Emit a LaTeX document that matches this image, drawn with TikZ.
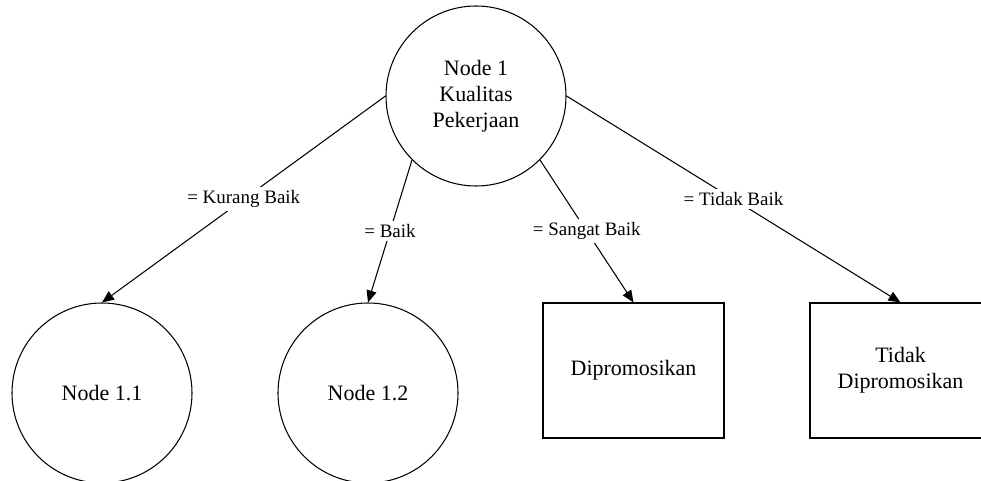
\documentclass[tikz,border=0pt]{standalone}
\usepackage{fontspec}
\setmainfont{Liberation Serif}
\usetikzlibrary{arrows.meta,positioning}

\begin{document}
\begin{tikzpicture}[
  line width=0.6pt,
  circ/.style={draw,circle,minimum size=3.6cm,inner sep=0pt,align=center,
               font=\fontsize{12.5}{14.8}\selectfont},
  leaf/.style={draw,rectangle,minimum width=3.62cm,minimum height=2.7cm,
               align=center,font=\fontsize{12.5}{14.8}\selectfont},
  arr/.style={-{Triangle[length=2.4mm,width=2mm]}},
  lbl/.style={fill=white,inner sep=2pt,font=\fontsize{10.8}{13}\selectfont}
]
  \clip (0,0) rectangle (19.62,-9.62);
  % Root
  \node[circ] (root) at (9.52,-1.92) {Node 1\\Kualitas\\Pekerjaan};
  % Children
  \node[circ] (n11) at (2.04,-7.86) {Node 1.1};
  \node[circ] (n12) at (7.36,-7.86) {Node 1.2};
  \node[leaf] (promo) at (12.67,-7.41) {Dipromosikan};
  \node[leaf] (nopromo) at (18.01,-7.41) {Tidak\\Dipromosikan};
  % Branches
  \draw[arr] (root.west) -- node[lbl] {= Kurang Baik} (n11.north);
  \draw[arr] (root.south west) -- node[lbl] {= Baik} (n12.north);
  \draw[arr] (root.south east) -- node[lbl] {= Sangat Baik} (promo.north);
  \draw[arr] (root.east) -- node[lbl] {= Tidak Baik} (nopromo.north);
\end{tikzpicture}
\end{document}
